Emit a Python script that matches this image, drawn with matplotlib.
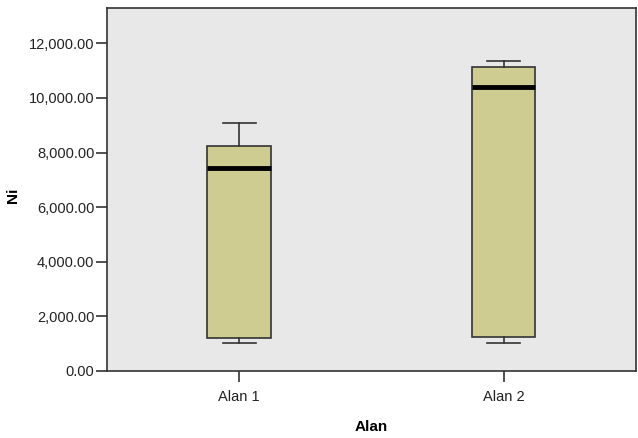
import matplotlib
matplotlib.use("Agg")
import matplotlib.pyplot as plt

# Box-plot summary values for Ni by area
categories = ["Alan 1", "Alan 2"]
whisker_low = [1030, 1030]
q1 = [1210, 1250]
medians = [7420, 10400]
q3 = [8230, 11130]
whisker_high = [9080, 11340]

y_ticks = [0, 2000, 4000, 6000, 8000, 10000, 12000]

plt.rcParams["font.family"] = ["Liberation Sans", "DejaVu Sans"]

fig = plt.figure(figsize=(6.38, 4.38), dpi=100)
ax = fig.add_axes([0.1677, 0.153, 0.829, 0.829])
ax.set_facecolor("#e8e8e8")

stats = []
for i, name in enumerate(categories):
    stats.append({
        "label": name,
        "whislo": whisker_low[i],
        "q1": q1[i],
        "med": medians[i],
        "q3": q3[i],
        "whishi": whisker_high[i],
        "fliers": [],
    })

ax.bxp(
    stats,
    positions=[1, 2],
    widths=0.24,
    patch_artist=True,
    showfliers=False,
    boxprops=dict(facecolor="#cfcc92", edgecolor="#333333", linewidth=1.2),
    medianprops=dict(color="black", linewidth=3.5),
    whiskerprops=dict(color="#333333", linewidth=1.2),
    capprops=dict(color="#333333", linewidth=1.2),
    capwidths=0.125,
)

ax.set_xlim(0.5, 2.5)
ax.set_ylim(0, 13300)
ax.set_yticks(y_ticks)
ax.set_yticklabels([f"{v:,.2f}" for v in y_ticks])
ax.set_xticks([1, 2])
ax.set_xticklabels(categories)

ax.tick_params(axis="both", direction="out", length=8, width=1.2,
               color="#333333", labelsize=10.5, labelcolor="#222222")
ax.tick_params(axis="y", pad=1)
ax.tick_params(axis="x", pad=6)
for side in ["left", "bottom", "right", "top"]:
    ax.spines[side].set_color("#333333")
    ax.spines[side].set_linewidth(1.2)

ax.set_xlabel("Alan", fontsize=11, fontweight="bold", labelpad=11)
ax.set_ylabel("Ni", fontsize=11, fontweight="bold")
ax.yaxis.set_label_coords(-0.165, 0.485)

fig.savefig("out.png", dpi=100)
